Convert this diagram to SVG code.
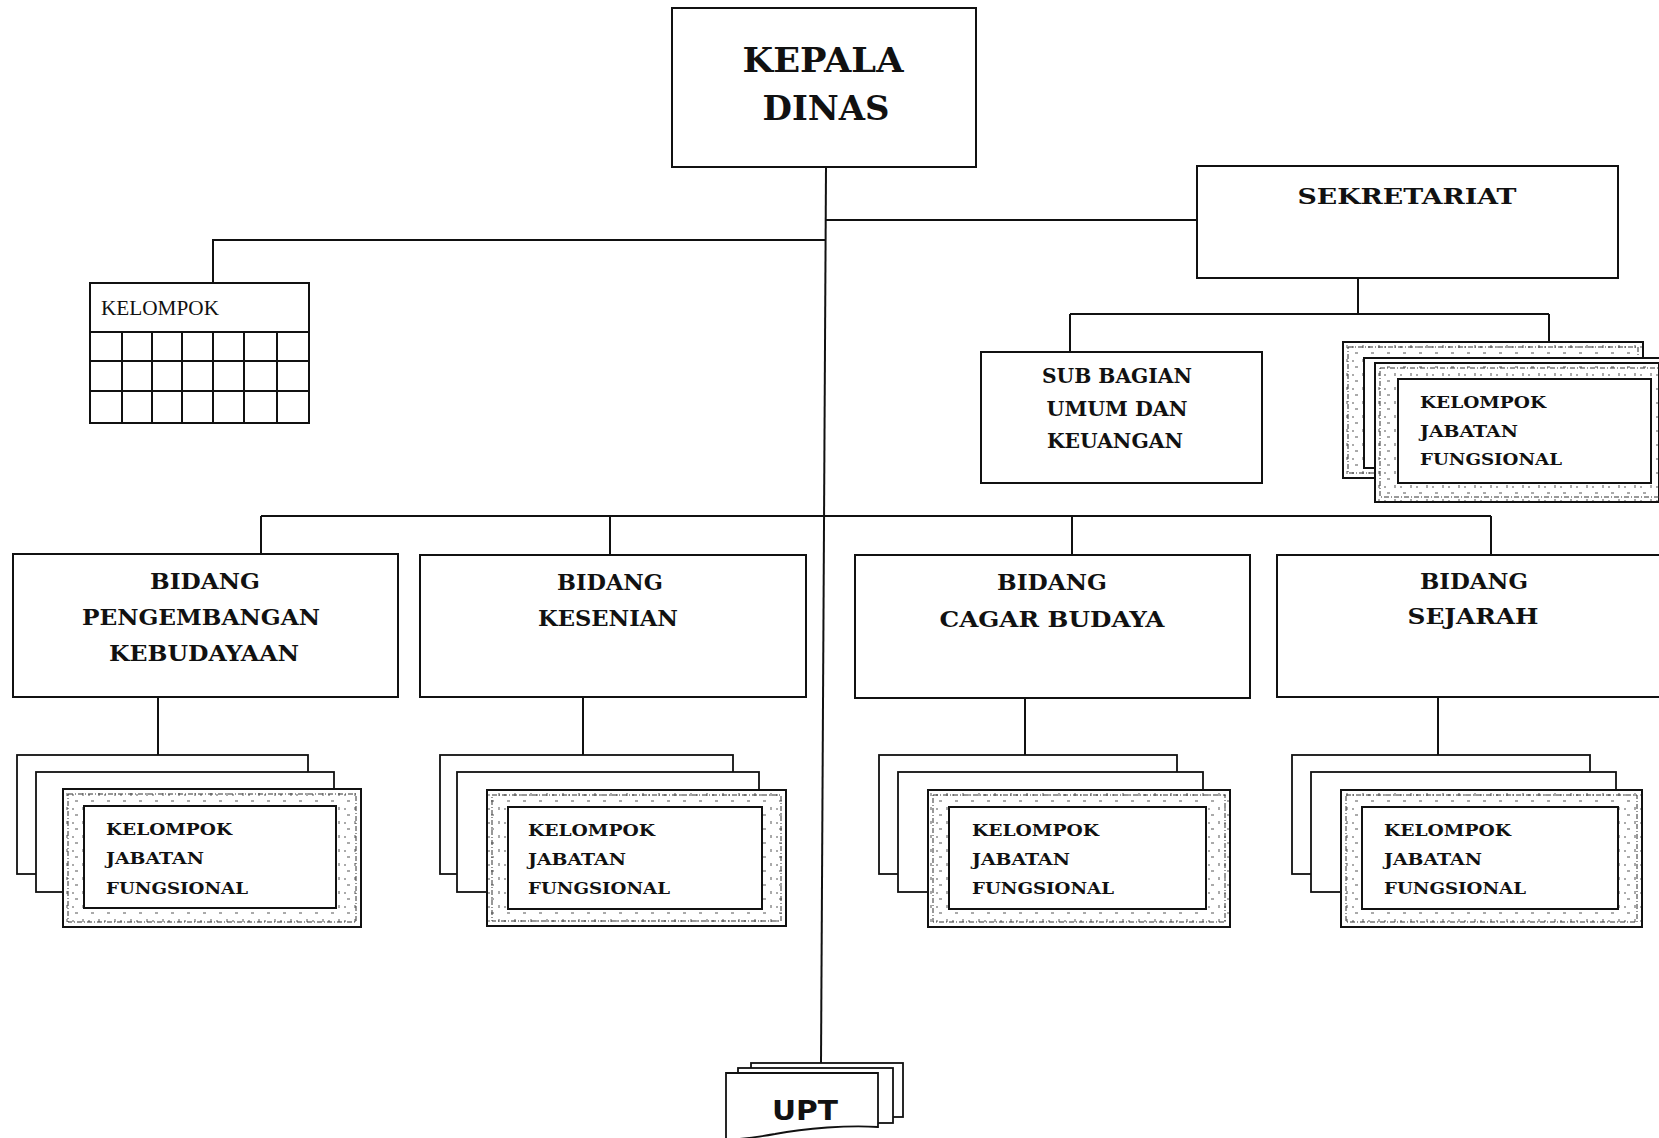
<svg xmlns="http://www.w3.org/2000/svg" width="1659" height="1138" viewBox="0 0 1659 1138">
  <defs>
    <!-- sparse ruler-like tick texture used in the framed group boxes -->
    <pattern id="ticks" width="16" height="14" patternUnits="userSpaceOnUse">
      <rect width="16" height="14" fill="#fff"/>
      <path d="M3 9v3 M11 3h3 M8 11h2" stroke="#555" stroke-width="1"/>
    </pattern>
    <style>
      .box { fill: #fff; stroke: #111; stroke-width: 2; }
      .page { fill: #fff; stroke: #111; stroke-width: 1.8; }
      .frame { fill: url(#ticks); stroke: #111; stroke-width: 2; }
      .rule { fill: none; stroke: #333; stroke-width: 1; stroke-dasharray: 5 2 1 2; }
      .inner { fill: #fff; stroke: #111; stroke-width: 2; }
      .grid { fill: none; stroke: #111; stroke-width: 2; }
      .conn { fill: none; stroke: #111; stroke-width: 2; }
      .t { font-family: "DejaVu Serif", "Liberation Serif", serif; font-weight: bold; fill: #111; }
      .big { font-size: 33px; text-anchor: middle; }
      .mid { font-size: 22px; text-anchor: middle; }
      .sub { font-size: 20px; text-anchor: middle; }
      .kjf { font-size: 16.5px; }
      .reg { font-family: "Liberation Serif", serif; font-size: 21.5px; fill: #111; }
      .upt { font-family: "DejaVu Sans", "Liberation Sans", sans-serif; font-weight: bold; font-size: 27px; fill: #111; }
    </style>
  </defs>

  <rect width="1659" height="1138" fill="#fff"/>

  <!-- connectors -->
  <g id="connectors">
    <path class="conn" d="M826 167 L821 1063"/>
    <path class="conn" d="M825 220 H1197"/>
    <path class="conn" d="M825 240 H213 V283"/>
    <path class="conn" d="M1358 278 V314 M1070 314 H1549 M1070 314 V352 M1549 314 V342"/>
    <path class="conn" d="M261 516 H1491 M261 516 V554 M610 516 V555 M1072 516 V555 M1491 516 V555"/>
    <path class="conn" d="M158 697 V755 M583 697 V755 M1025 698 V755 M1438 697 V755"/>
  </g>

  <!-- head of office -->
  <g id="kepala-dinas">
    <rect class="box" x="672" y="8" width="304" height="159"/>
    <text class="t big" x="823" y="72" textLength="161" lengthAdjust="spacingAndGlyphs">KEPALA</text>
    <text class="t big" x="826" y="120" textLength="127" lengthAdjust="spacingAndGlyphs">DINAS</text>
  </g>

  <!-- secretariat -->
  <g id="sekretariat">
    <rect class="box" x="1197" y="166" width="421" height="112"/>
    <text class="t mid" x="1407" y="204" font-size="25" textLength="219" lengthAdjust="spacingAndGlyphs">SEKRETARIAT</text>
  </g>

  <!-- functional group (grid) -->
  <g id="kelompok">
    <rect class="box" x="90" y="283" width="219" height="140"/>
    <path class="grid" d="M90 332 H309 M90 361 H309 M90 391 H309 M122 332 V423 M152 332 V423 M182 332 V423 M213 332 V423 M244 332 V423 M277 332 V423"/>
    <text class="reg" x="101" y="315" textLength="118" lengthAdjust="spacingAndGlyphs">KELOMPOK</text>
  </g>

  <!-- general affairs and finance sub-division -->
  <g id="sub-bagian">
    <rect class="box" x="981" y="352" width="281" height="131"/>
    <text class="t sub" x="1117" y="383" textLength="150" lengthAdjust="spacingAndGlyphs">SUB BAGIAN</text>
    <text class="t sub" x="1117" y="416" textLength="141" lengthAdjust="spacingAndGlyphs">UMUM DAN</text>
    <text class="t sub" x="1115" y="448" textLength="136" lengthAdjust="spacingAndGlyphs">KEUANGAN</text>
  </g>

  <!-- secretariat functional group stack -->
  <g id="kjf-sekretariat">
    <rect class="frame" x="1343" y="342" width="300" height="136"/>
    <rect class="rule" x="1348" y="347" width="290" height="126"/>
    <rect class="inner" x="1364" y="358" width="300" height="110"/>
    <rect class="frame" x="1375" y="363" width="284" height="139"/>
    <rect class="rule" x="1380" y="368" width="290" height="129"/>
    <rect class="inner" x="1398" y="379" width="253" height="104"/>
    <text class="t kjf" x="1420" y="408" textLength="126" lengthAdjust="spacingAndGlyphs">KELOMPOK</text>
    <text class="t kjf" x="1420" y="437" textLength="98" lengthAdjust="spacingAndGlyphs">JABATAN</text>
    <text class="t kjf" x="1420" y="465" textLength="142" lengthAdjust="spacingAndGlyphs">FUNGSIONAL</text>
  </g>

  <!-- divisions -->
  <g id="bidang-pengembangan">
    <rect class="box" x="13" y="554" width="385" height="143"/>
    <text class="t mid" x="205" y="589" textLength="110" lengthAdjust="spacingAndGlyphs">BIDANG</text>
    <text class="t mid" x="201" y="625" textLength="238" lengthAdjust="spacingAndGlyphs">PENGEMBANGAN</text>
    <text class="t mid" x="204" y="661" textLength="190" lengthAdjust="spacingAndGlyphs">KEBUDAYAAN</text>
  </g>
  <g id="bidang-kesenian">
    <rect class="box" x="420" y="555" width="386" height="142"/>
    <text class="t mid" x="610" y="590" textLength="106" lengthAdjust="spacingAndGlyphs">BIDANG</text>
    <text class="t mid" x="608" y="626" textLength="140" lengthAdjust="spacingAndGlyphs">KESENIAN</text>
  </g>
  <g id="bidang-cagar-budaya">
    <rect class="box" x="855" y="555" width="395" height="143"/>
    <text class="t mid" x="1052" y="590" textLength="110" lengthAdjust="spacingAndGlyphs">BIDANG</text>
    <text class="t mid" x="1052" y="627" textLength="225" lengthAdjust="spacingAndGlyphs">CAGAR BUDAYA</text>
  </g>
  <g id="bidang-sejarah">
    <rect class="box" x="1277" y="555" width="394" height="142"/>
    <text class="t mid" x="1474" y="589" textLength="108" lengthAdjust="spacingAndGlyphs">BIDANG</text>
    <text class="t mid" x="1473" y="624" textLength="131" lengthAdjust="spacingAndGlyphs">SEJARAH</text>
  </g>

  <!-- functional group stacks under each division -->
  <g id="kjf-pengembangan">
    <rect class="page" x="17" y="755" width="291" height="119"/>
    <rect class="page" x="36" y="772" width="298" height="120"/>
    <rect class="frame" x="63" y="789" width="298" height="138"/>
    <rect class="rule" x="68" y="794" width="288" height="128"/>
    <rect class="inner" x="84" y="806" width="252" height="102"/>
    <text class="t kjf" x="106" y="835" textLength="126" lengthAdjust="spacingAndGlyphs">KELOMPOK</text>
    <text class="t kjf" x="106" y="864" textLength="98" lengthAdjust="spacingAndGlyphs">JABATAN</text>
    <text class="t kjf" x="106" y="894" textLength="142" lengthAdjust="spacingAndGlyphs">FUNGSIONAL</text>
  </g>
  <g id="kjf-kesenian">
    <rect class="page" x="440" y="755" width="293" height="119"/>
    <rect class="page" x="457" y="772" width="302" height="120"/>
    <rect class="frame" x="487" y="790" width="299" height="136"/>
    <rect class="rule" x="492" y="795" width="289" height="126"/>
    <rect class="inner" x="508" y="807" width="254" height="102"/>
    <text class="t kjf" x="528" y="836" textLength="127" lengthAdjust="spacingAndGlyphs">KELOMPOK</text>
    <text class="t kjf" x="528" y="865" textLength="98" lengthAdjust="spacingAndGlyphs">JABATAN</text>
    <text class="t kjf" x="528" y="894" textLength="142" lengthAdjust="spacingAndGlyphs">FUNGSIONAL</text>
  </g>
  <g id="kjf-cagar-budaya">
    <rect class="page" x="879" y="755" width="298" height="119"/>
    <rect class="page" x="898" y="772" width="305" height="120"/>
    <rect class="frame" x="928" y="790" width="302" height="137"/>
    <rect class="rule" x="933" y="795" width="292" height="127"/>
    <rect class="inner" x="949" y="807" width="257" height="102"/>
    <text class="t kjf" x="972" y="836" textLength="127" lengthAdjust="spacingAndGlyphs">KELOMPOK</text>
    <text class="t kjf" x="972" y="865" textLength="98" lengthAdjust="spacingAndGlyphs">JABATAN</text>
    <text class="t kjf" x="972" y="894" textLength="142" lengthAdjust="spacingAndGlyphs">FUNGSIONAL</text>
  </g>
  <g id="kjf-sejarah">
    <rect class="page" x="1292" y="755" width="298" height="119"/>
    <rect class="page" x="1311" y="772" width="305" height="120"/>
    <rect class="frame" x="1341" y="790" width="301" height="137"/>
    <rect class="rule" x="1346" y="795" width="291" height="127"/>
    <rect class="inner" x="1362" y="807" width="256" height="102"/>
    <text class="t kjf" x="1384" y="836" textLength="127" lengthAdjust="spacingAndGlyphs">KELOMPOK</text>
    <text class="t kjf" x="1384" y="865" textLength="98" lengthAdjust="spacingAndGlyphs">JABATAN</text>
    <text class="t kjf" x="1384" y="894" textLength="142" lengthAdjust="spacingAndGlyphs">FUNGSIONAL</text>
  </g>

  <!-- technical implementation units -->
  <g id="upt">
    <rect class="page" x="751" y="1063" width="152" height="54"/>
    <rect class="page" x="738" y="1068" width="155" height="55"/>
    <path class="page" d="M726 1073 H878 V1127 C850 1125 805 1128 775 1134 C758 1137 742 1139 726 1140 Z"/>
    <text class="upt" x="772" y="1120" textLength="66" lengthAdjust="spacingAndGlyphs">UPT</text>
  </g>
</svg>
